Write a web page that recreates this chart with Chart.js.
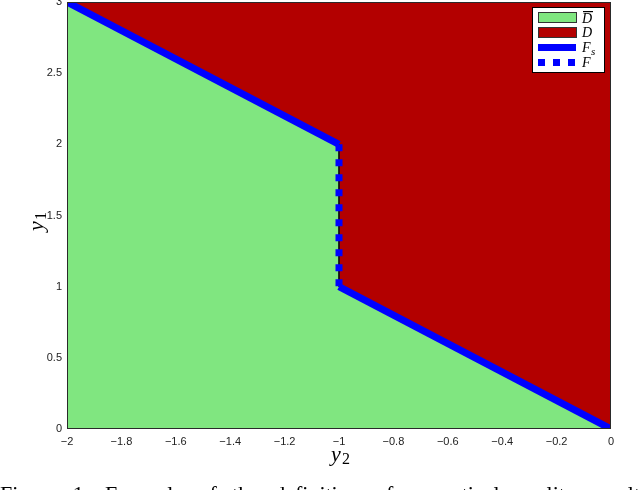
<!DOCTYPE html>
<html>
<head>
<meta charset="utf-8">
<script src="https://cdn.jsdelivr.net/npm/chart.js@4/dist/chart.umd.min.js"></script>
<style>
html,body{margin:0;padding:0;background:#fff;}
#wrap{width:640px;height:490px;position:relative;}
</style>
</head>
<body>
<div id="wrap"><canvas id="c" width="640" height="490"></canvas></div>
<script>
// Boundary between regions D-bar (below) and D (above)
const boundaryX = [-2, -1, -1, 0];
const boundaryY = [3, 2, 1, 0];
// Solid boundary segments F_s
const fsUpperX = [-2, -1];
const fsUpperY = [3, 2];
const fsLowerX = [-1, 0];
const fsLowerY = [1, 0];
// Dashed vertical boundary F
const fX = [-1, -1];
const fY = [2, 1];
// Ticks
const xTicks = [-2, -1.8, -1.6, -1.4, -1.2, -1, -0.8, -0.6, -0.4, -0.2, 0];
const yTicks = [0, 0.5, 1, 1.5, 2, 2.5, 3];
const legendLabels = ["D", "D", "F", "F"];
const captionText = "Figure 1:  Example of the definition of a vertical quality result";

const pts = (xs, ys) => xs.map((x, i) => ({x: x, y: ys[i]}));
const GREEN = '#80e680', RED = '#b30000', BLUE = '#0000ff';

const deco = {
  id: 'deco',
  afterDraw(chart) {
    const ctx = chart.ctx, a = chart.chartArea;
    ctx.save();
    // axes box
    ctx.strokeStyle = '#2a2a2a';
    ctx.lineWidth = 1;
    ctx.strokeRect(a.left + 0.5, a.top + 0.5, a.right - a.left - 1, a.bottom - a.top - 1);
    // legend box
    const lx = 532, ly = 7, lw = 72, lh = 65;
    ctx.fillStyle = '#fff';
    ctx.fillRect(lx, ly, lw, lh);
    ctx.strokeStyle = '#000';
    ctx.strokeRect(lx + 0.5, ly + 0.5, lw, lh);
    // entries
    ctx.fillStyle = GREEN; ctx.fillRect(538, 12, 38, 10);
    ctx.strokeStyle = '#333'; ctx.strokeRect(538.5, 12.5, 38, 10);
    ctx.fillStyle = RED; ctx.fillRect(538, 27, 38, 10);
    ctx.strokeRect(538.5, 27.5, 38, 10);
    ctx.fillStyle = BLUE; ctx.fillRect(538, 44, 38, 7);
    ctx.fillRect(538, 59, 7, 7); ctx.fillRect(553, 59, 7, 7); ctx.fillRect(568, 59, 7, 7);
    // labels
    ctx.fillStyle = '#000';
    ctx.textBaseline = 'alphabetic';
    ctx.textAlign = 'left';
    ctx.font = 'italic 14px "Liberation Serif"';
    ctx.fillText(legendLabels[0], 582, 23);
    ctx.fillRect(583, 11, 10, 1.2);
    ctx.fillText(legendLabels[1], 582, 37);
    ctx.fillText(legendLabels[2], 582, 52);
    ctx.font = 'italic 11px "Liberation Serif"';
    ctx.fillText('s', 591, 55);
    ctx.font = 'italic 14px "Liberation Serif"';
    ctx.fillText(legendLabels[3], 582, 67);
    // x axis title y_2
    ctx.font = 'italic 22px "Liberation Serif"';
    ctx.fillText('y', 331, 461);
    ctx.font = '16px "Liberation Serif"';
    ctx.fillText('2', 342, 464);
    // y axis title y_1 (rotated)
    ctx.save();
    ctx.translate(43, 231);
    ctx.rotate(-Math.PI / 2);
    ctx.font = 'italic 22px "Liberation Serif"';
    ctx.fillText('y', 0, 0);
    ctx.font = '16px "Liberation Serif"';
    ctx.fillText('1', 11, 3);
    ctx.restore();
    // caption (cut off by the bottom edge)
    ctx.font = '22px "Liberation Serif"';
    ctx.fillStyle = '#000';
    const words = captionText.split(' ').filter(w => w.length);
    let wsum = 0;
    words.forEach(w => wsum += ctx.measureText(w).width);
    const gap = (640 - wsum) / (words.length - 1);
    let cx = 0;
    words.forEach(w => { ctx.fillText(w, cx, 501); cx += ctx.measureText(w).width + gap; });
    ctx.restore();
  }
};

const fmt = v => {
  const s = String(Math.round(v * 10) / 10);
  return s.replace('-', '\u2212');
};

new Chart(document.getElementById('c'), {
  type: 'line',
  data: {
    datasets: [
      {data: pts(fsUpperX, fsUpperY), borderColor: BLUE, borderWidth: 7, pointRadius: 0, fill: false, borderCapStyle: 'butt'},
      {data: pts(fsLowerX, fsLowerY), borderColor: BLUE, borderWidth: 7, pointRadius: 0, fill: false, borderCapStyle: 'butt'},
      {data: pts(fX, fY), borderColor: BLUE, borderWidth: 7, borderDash: [7, 8], pointRadius: 0, fill: false, borderCapStyle: 'butt'},
      {data: pts(fX, fY), borderColor: '#111', borderWidth: 1, pointRadius: 0, fill: false},
      {data: pts(boundaryX, boundaryY), borderWidth: 0, borderColor: 'rgba(0,0,0,0)', backgroundColor: GREEN, pointRadius: 0, fill: 'start'},
      {data: pts(boundaryX, boundaryY), borderWidth: 0, borderColor: 'rgba(0,0,0,0)', backgroundColor: RED, pointRadius: 0, fill: 'end'}
    ]
  },
  options: {
    responsive: false,
    animation: false,
    events: [],
    layout: {padding: {left: 0, top: 2, right: 29, bottom: 0}},
    plugins: {
      legend: {display: false},
      tooltip: {enabled: false},
      filler: {drawTime: 'beforeDatasetsDraw'}
    },
    scales: {
      x: {
        type: 'linear', min: -2, max: 0,
        afterBuildTicks: s => { s.ticks = xTicks.map(v => ({value: v})); },
        afterFit: s => { s.height = 61; s.paddingLeft = 0; s.paddingRight = 0; },
        grid: {display: false, drawTicks: false},
        border: {display: false},
        ticks: {autoSkip: false, maxRotation: 0, padding: 6, color: '#222',
          font: {family: '"Liberation Sans"', size: 11}, callback: v => fmt(v)}
      },
      y: {
        type: 'linear', min: 0, max: 3,
        afterBuildTicks: s => { s.ticks = yTicks.map(v => ({value: v})); },
        afterFit: s => { s.width = 67; s.paddingTop = 0; s.paddingBottom = 0; },
        grid: {display: false, drawTicks: false},
        border: {display: false},
        ticks: {autoSkip: false, padding: 5, color: '#222',
          font: {family: '"Liberation Sans"', size: 11}, callback: v => fmt(v)}
      }
    }
  },
  plugins: [deco]
});
</script>
</body>
</html>
